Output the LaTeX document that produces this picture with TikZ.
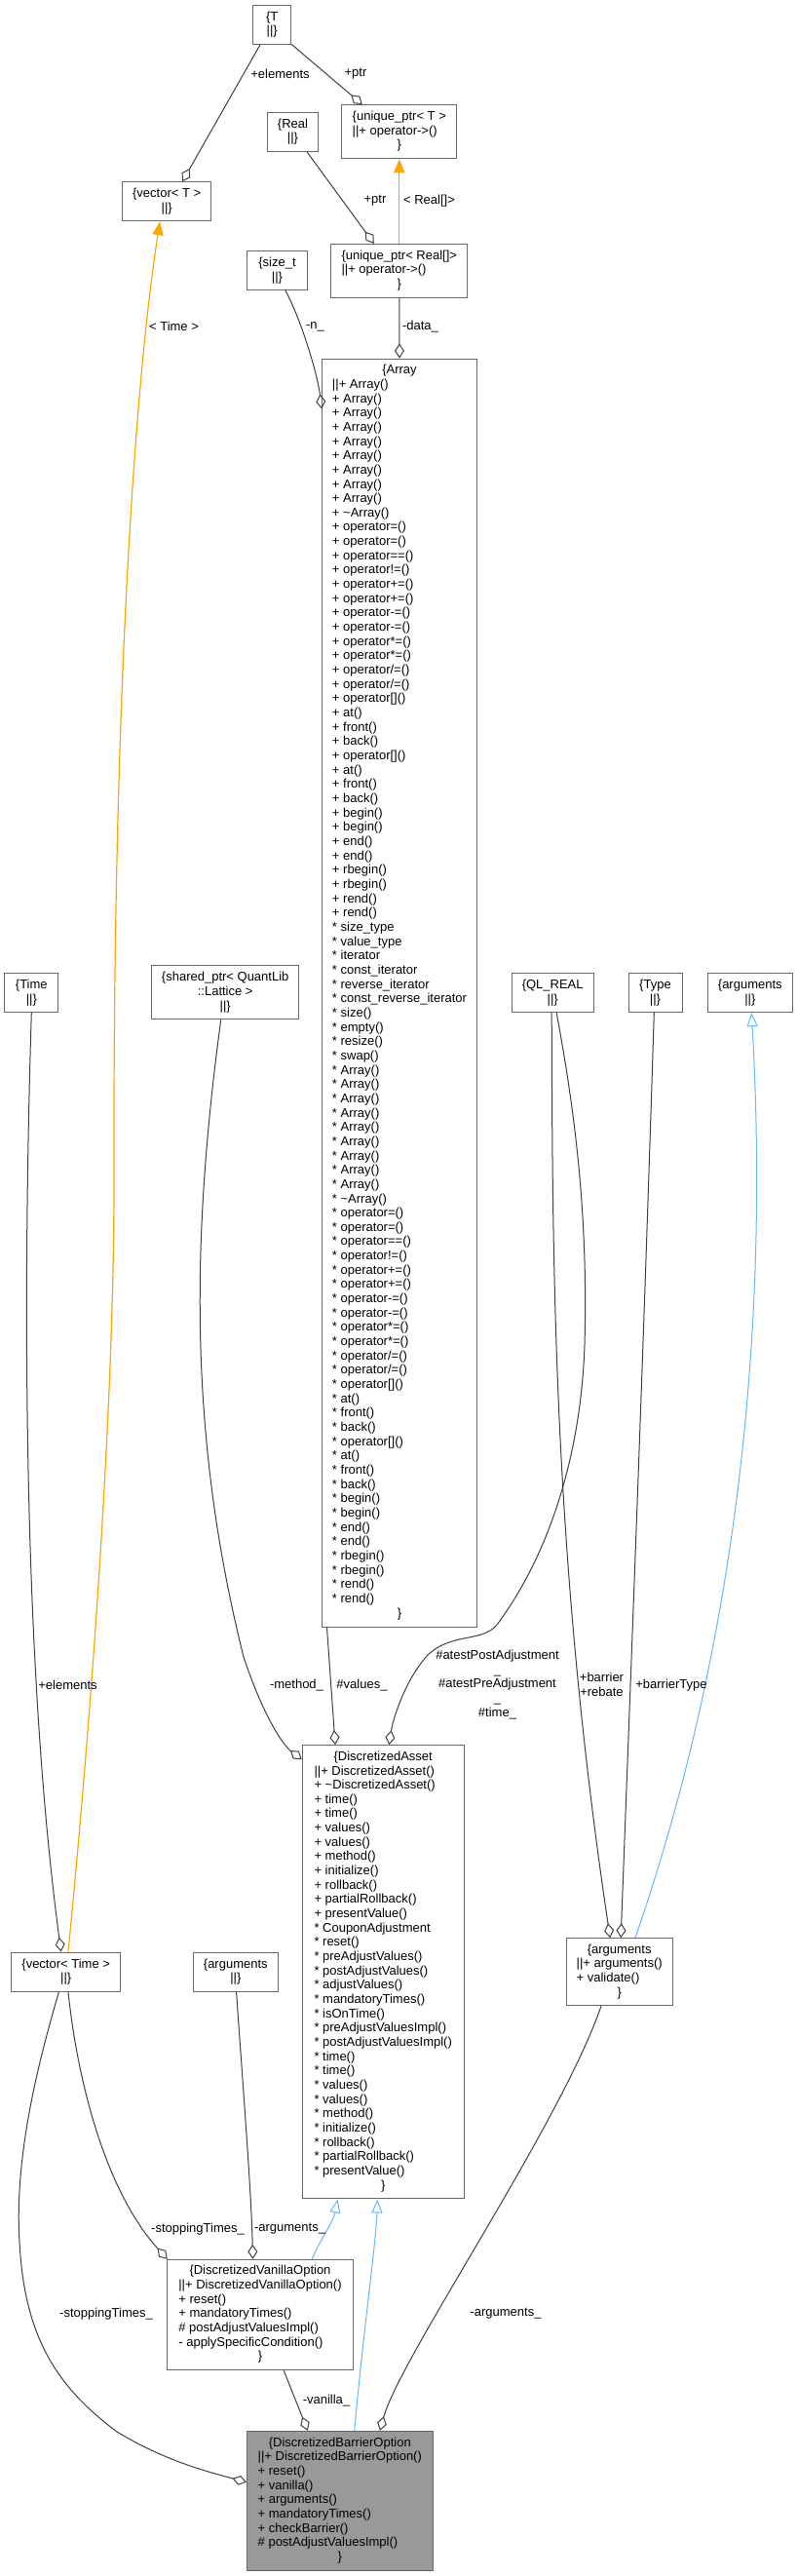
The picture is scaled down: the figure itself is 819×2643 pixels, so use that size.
\documentclass[tikz,border=0pt]{standalone}
\usepackage{fontspec}
\setmainfont{Liberation Sans}
\usepackage{tikz}
\usetikzlibrary{arrows.meta}
\usetikzlibrary{calc}

\definecolor{edgegray}{HTML}{404040}
\definecolor{boxgray}{HTML}{666666}
\definecolor{tplorange}{HTML}{FFA500}
\definecolor{inhblue}{HTML}{63B8FF}
\definecolor{curfill}{HTML}{999999}

\newcommand{\boxhead}[1]{\multicolumn{1}{@{}c@{}}{\{#1}}
\newcommand{\boxtail}{\multicolumn{1}{@{}c@{}}{\}}}
\newcommand{\arrayrest}[1]{%
	#1 \textasciitilde Array()\\
	#1 operator=()\\
	#1 operator=()\\
	#1 operator==()\\
	#1 operator!=()\\
	#1 operator+=()\\
	#1 operator+=()\\
	#1 operator-=()\\
	#1 operator-=()\\
	#1 operator*=()\\
	#1 operator*=()\\
	#1 operator/=()\\
	#1 operator/=()\\
	#1 operator[]()\\
	#1 at()\\
	#1 front()\\
	#1 back()\\
	#1 operator[]()\\
	#1 at()\\
	#1 front()\\
	#1 back()\\
	#1 begin()\\
	#1 begin()\\
	#1 end()\\
	#1 end()\\
	#1 rbegin()\\
	#1 rbegin()\\
	#1 rend()\\
	#1 rend()\\}

\tikzset{
	cls/.style={draw=boxgray, line width=1pt, fill=white, inner sep=0pt},
	leaf/.style={cls, align=center, minimum height=40},
	lbl/.style={inner sep=0pt, align=center},
	agg/.style={draw=edgegray, line width=1pt, -{Diamond[open, length=15pt, width=10pt]}},
	inst/.style={draw=tplorange, line width=1.2pt, -{Triangle[length=14pt, width=11pt]}},
	inh/.style={draw=inhblue, line width=1pt, -{Triangle[fill=white, length=14pt, width=11pt]}}
}

\begin{document}
\begin{tikzpicture}[x=1pt, y=-1pt, font=\fontsize{13}{14.66}\selectfont]
	\useasboundingbox[fill=white] (0,0) rectangle (819,2643);

	\node[leaf, minimum width=39] (T) at (279.2,25) {\{T\\||\}};
	\node[cls, minimum width=117.7, minimum height=55] (uptrT) at (409.8,135.2) {%
		\begin{tabular}{@{}l@{}}
			\boxhead{unique\_ptr< T >}\\
			||+ operator->()\\
			\boxtail
	\end{tabular}};
	\node[leaf, minimum width=52.4] (real) at (300.5,135.3) {\{Real\\||\}};
	\node[leaf, minimum width=91] (vecT) at (171.2,206.7) {\{vector< T >\\||\}};
	\node[leaf, minimum width=61.6] (sizet) at (284.5,277.7) {\{size\_t\\||\}};
	\node[cls, minimum width=140.3, minimum height=55] (uptrR) at (409.8,277.8) {%
		\begin{tabular}{@{}l@{}}
			\boxhead{unique\_ptr< Real[]>}\\
			||+ operator->()\\
			\boxtail
	\end{tabular}};

	\node[cls, minimum width=158.6, minimum height=1301] (array) at (410,1018.5) {%
		\begin{tabular}{@{}l@{}}
			\boxhead{Array}\\
			||+ Array()\\
			+ Array()\\
			+ Array()\\
			+ Array()\\
			+ Array()\\
			+ Array()\\
			+ Array()\\
			+ Array()\\
			+ Array()\\
			\arrayrest{+}
			{*} size\_type\\
			{*} value\_type\\
			{*} iterator\\
			{*} const\_iterator\\
			{*} reverse\_iterator\\
			{*} const\_reverse\_iterator\\
			{*} size()\\
			{*} empty()\\
			{*} resize()\\
			{*} swap()\\
			{*} Array()\\
			{*} Array()\\
			{*} Array()\\
			{*} Array()\\
			{*} Array()\\
			{*} Array()\\
			{*} Array()\\
			{*} Array()\\
			{*} Array()\\
			\arrayrest{{*}}
			\boxtail
	\end{tabular}};

	\node[leaf, minimum width=55.3] (time) at (32.3,1018.7) {\{Time\\||\}};
	\node[leaf, minimum width=151, minimum height=55.3] (lattice) at (231.2,1018.3) {\{shared\_ptr< QuantLib\\::Lattice >\\||\}};
	\node[leaf, minimum width=84.3] (qlreal) at (567.2,1018.7) {\{QL\_REAL\\||\}};
	\node[leaf, minimum width=55] (type) at (672.5,1018.7) {\{Type\\||\}};
	\node[leaf, minimum width=87] (argBase) at (769.8,1018.7) {\{arguments\\||\}};

	\node[cls, minimum width=165.9, minimum height=465.3] (dasset) at (393.2,2023.3) {%
		\begin{tabular}{@{}l@{}}
			\boxhead{DiscretizedAsset}\\
			||+ DiscretizedAsset()\\
			+ \textasciitilde DiscretizedAsset()\\
			+ time()\\
			+ time()\\
			+ values()\\
			+ values()\\
			+ method()\\
			+ initialize()\\
			+ rollback()\\
			+ partialRollback()\\
			+ presentValue()\\
			{*} CouponAdjustment\\
			{*} reset()\\
			{*} preAdjustValues()\\
			{*} postAdjustValues()\\
			{*} adjustValues()\\
			{*} mandatoryTimes()\\
			{*} isOnTime()\\
			{*} preAdjustValuesImpl()\\
			{*} postAdjustValuesImpl()\\
			{*} time()\\
			{*} time()\\
			{*} values()\\
			{*} values()\\
			{*} method()\\
			{*} initialize()\\
			{*} rollback()\\
			{*} partialRollback()\\
			{*} presentValue()\\
			\boxtail
	\end{tabular}};

	\node[leaf, minimum width=112.4, minimum height=40.3] (vecTime) at (67.7,2023.2) {\{vector< Time >\\||\}};
	\node[leaf, minimum width=87.6, minimum height=40.3] (argVan) at (241.8,2023.2) {\{arguments\\||\}};
	\node[cls, minimum width=109.3, minimum height=69] (argBar) at (635.7,2023.2) {%
		\begin{tabular}{@{}l@{}}
			\boxhead{arguments}\\
			||+ arguments()\\
			+ validate()\\
			\boxtail
	\end{tabular}};

	\node[cls, minimum width=191.6, minimum height=113.4] (vanilla) at (267,2375) {%
		\begin{tabular}{@{}l@{}}
			\boxhead{DiscretizedVanillaOption}\\
			||+ DiscretizedVanillaOption()\\
			+ reset()\\
			+ mandatoryTimes()\\
			\# postAdjustValuesImpl()\\
			- applySpecificCondition()\\
			\boxtail
	\end{tabular}};
	\node[cls, fill=curfill, minimum width=190.6, minimum height=143] (barrier) at (348.8,2565.8) {%
		\begin{tabular}{@{}l@{}}
			\boxhead{DiscretizedBarrierOption}\\
			||+ DiscretizedBarrierOption()\\
			+ reset()\\
			+ vanilla()\\
			+ arguments()\\
			+ mandatoryTimes()\\
			+ checkBarrier()\\
			\# postAdjustValuesImpl()\\
			\boxtail
	\end{tabular}};

	\draw[agg] ($(T.south)+(-12,0)$) -- ($(vecT.north)+(16,0)$);
	\draw[agg] (T.south east) -- ($(uptrT.north)+(-38,0)$);
	\draw[agg] ($(real.south)+(14.5,0)$) -- ($(uptrR.north)+(-26,0)$);
	\draw[inst] (uptrR.north) -- (uptrT.south);
	\draw[agg] (uptrR.south) -- (array.north);
	\draw[agg] ($(sizet.south)+(8.5,0)$) .. controls (310,330) and (326,385) .. ($(array.north west)+(0,52)$);
	\draw[inst] ($(vecTime.north)+(2.3,0)$) .. controls (80,1900) and (118,1500) .. (117,1200)
		.. controls (116,700) and (140,380) .. ($(vecT.south)+(-7,0)$);
	\draw[agg] (time.south) .. controls (24,1300) and (22,1700) .. ($(vecTime.north)+(-5,0)$);
	\draw[agg] ($(lattice.south)+(-4.5,0)$) .. controls (195,1280) and (195,1480) .. (250,1700)
		.. controls (270,1760) and (290,1790) .. ($(dasset.north west)+(0,15)$);
	\draw[agg] ($(array.south west)+(5.3,0)$) -- ($(dasset.north west)+(34.3,0)$);
	\draw[agg] ($(qlreal.south)+(4,0)$) .. controls (588,1130) and (604,1240) .. (600,1380)
		.. controls (596,1500) and (560,1600) .. (510,1667)
		.. controls (495,1685) and (465,1675) .. (440,1697)
		.. controls (418,1720) and (404,1760) .. ($(dasset.north)+(6,0)$);
	\draw[agg] ($(qlreal.south)+(-1,0)$) .. controls (567,1300) and (568,1600) .. ($(argBar.north)+(-9.5,0)$);
	\draw[agg] ($(type.south)+(-1.2,0)$) .. controls (660,1400) and (648,1700) .. ($(argBar.north)+(1.5,0)$);
	\draw[inh] ($(argBar.north)+(16.3,0)$) .. controls (745,1720) and (792,1400) .. ($(argBase.south)+(1.5,0)$);
	\draw[agg] ($(vecTime.south)+(2.3,0)$) .. controls (80,2140) and (110,2250) .. ($(vanilla.north west)+(1,0)$);
	\draw[agg] ($(vecTime.south)+(-7.3,0)$) .. controls (35,2130) and (15,2220) .. (20,2300)
		.. controls (25,2400) and (60,2450) .. (120,2495)
		.. controls (170,2525) and (210,2535) .. ($(barrier.north west)+(0,53)$);
	\draw[agg] ($(argVan.south)+(0.8,0)$) .. controls (250,2150) and (258,2250) .. ($(vanilla.north)+(-7.5,0)$);
	\draw[agg] ($(vanilla.south)+(24.3,0)$) -- ($(barrier.north)+(-33,0)$);
	\draw[agg] ($(argBar.south)+(-18.7,0)$) .. controls (575,2180) and (410,2420) .. ($(barrier.north)+(41.2,0)$);
	\draw[inh] ($(vanilla.north)+(53.2,0)$) .. controls (330,2295) and (342,2280) .. ($(dasset.south)+(-46.7,0)$);
	\draw[inh] ($(barrier.north)+(15,0)$) .. controls (372,2400) and (386,2300) .. ($(dasset.south)+(-5.8,0)$);

	\node[lbl] (lelem) at (287.5,76) {+elements};
	\node[lbl] (lptrT) at (365,76) {+ptr};
	\node[lbl] (lptrR) at (385,206) {+ptr};
	\node[lbl] (lreal) at (440.5,206) {< Real[]>};
	\node[lbl] (ltime) at (178.5,335) {< Time >};
	\node[lbl] (ln) at (323.5,335) {-n\_};
	\node[lbl] (ldata) at (431.5,335) {-data\_};
	\node[lbl] (lelemtime) at (69.5,1729) {+elements};
	\node[lbl] (lmethod) at (304.5,1729) {-method\_};
	\node[lbl] (lvalues) at (371.5,1729) {\#values\_};
	\node[lbl] (llatest) at (510.5,1728.5) {\#atestPostAdjustment\\\_\\\#atestPreAdjustment\\\_\\\#time\_};
	\node[lbl] (lbarrier) at (617.5,1728.5) {+barrier\\+rebate};
	\node[lbl] (lbtype) at (689,1729) {+barrierType};
	\node[lbl] (lstopvan) at (203,2287) {-stoppingTimes\_};
	\node[lbl] (largvan) at (297.5,2287) {-arguments\_};
	\node[lbl] (lstopbar) at (109,2374) {-stoppingTimes\_};
	\node[lbl] (largbar) at (519,2374) {-arguments\_};
	\node[lbl] (lvanilla) at (335,2463) {-vanilla\_};
\end{tikzpicture}
\end{document}
